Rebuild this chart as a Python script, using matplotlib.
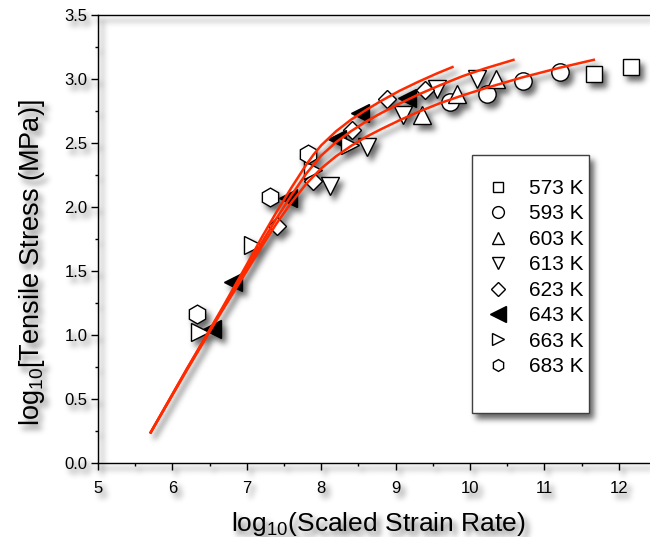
import numpy as np
import matplotlib
matplotlib.use('Agg')
import matplotlib.pyplot as plt
from matplotlib.lines import Line2D
from matplotlib.patches import Rectangle

plt.rcParams['font.family'] = ['Liberation Sans', 'DejaVu Sans']
plt.rcParams['mathtext.fontset'] = 'custom'
plt.rcParams['mathtext.rm'] = 'Liberation Sans'
plt.rcParams['mathtext.it'] = 'Liberation Sans:italic'

## data
labels = ['573 K', '593 K', '603 K', '613 K', '623 K', '643 K', '663 K', '683 K']
x_573 = [11.67, 12.16]
y_573 = [3.04, 3.09]
x_593 = [9.73, 10.23, 10.71, 11.21]
y_593 = [2.82, 2.88, 2.98, 3.05]
x_603 = [9.35, 9.83, 10.35]
y_603 = [2.72, 2.88, 3.00]
x_613 = [8.12, 8.62, 9.10, 9.55, 10.10]
y_613 = [2.16, 2.47, 2.72, 2.92, 3.00]
x_623 = [7.40, 7.89, 8.41, 8.88, 9.40]
y_623 = [1.85, 2.20, 2.60, 2.84, 2.91]
x_643 = [6.53, 6.82, 7.55, 8.21, 8.52, 9.15]
y_643 = [1.05, 1.41, 2.07, 2.53, 2.73, 2.85]
x_663 = [6.37, 7.08, 7.89, 8.39]
y_663 = [1.02, 1.70, 2.29, 2.48]
x_683 = [6.33, 7.31, 7.82]
y_683 = [1.16, 2.08, 2.41]

## fitted curves (red)
fit1_x = [5.70, 6.20, 6.66, 7.00, 7.20, 7.40, 7.60, 7.80, 7.90, 8.00, 8.20, 8.40,
          8.60, 8.80, 9.05, 9.30, 9.55, 9.78]
fit1_y = [0.23, 0.74, 1.20, 1.55, 1.76, 1.96, 2.15, 2.33, 2.41, 2.48, 2.59, 2.68,
          2.755, 2.825, 2.905, 2.975, 3.04, 3.095]
fit2_x = [5.70, 6.20, 6.66, 7.00, 7.20, 7.40, 7.60, 7.80, 8.00, 8.20, 8.40, 8.60,
          8.80, 9.05, 9.30, 9.60, 9.90, 10.20, 10.60]
fit2_y = [0.23, 0.74, 1.19, 1.52, 1.72, 1.91, 2.09, 2.26, 2.40, 2.505, 2.59, 2.665,
          2.73, 2.805, 2.875, 2.95, 3.02, 3.08, 3.15]
fit3_x = [5.70, 6.20, 6.66, 7.00, 7.20, 7.40, 7.60, 7.80, 8.00, 8.20, 8.40, 8.60, 8.80,
          9.05, 9.30, 9.60, 9.90, 10.20, 10.70, 11.20, 11.68]
fit3_y = [0.23, 0.73, 1.18, 1.50, 1.69, 1.87, 2.035, 2.18, 2.30, 2.395, 2.475, 2.545, 2.605,
          2.675, 2.74, 2.81, 2.87, 2.925, 3.01, 3.085, 3.15]

xs = [x_573, x_593, x_603, x_613, x_623, x_643, x_663, x_683]
ys = [y_573, y_593, y_603, y_613, y_623, y_643, y_663, y_683]
markers = ['s', 'o', '^', 'v', 'D', '<', '>', 'h']
sizes = [11, 12.5, 12.5, 12.5, 9.5, 13, 12.5, 13.5]
leg_sizes = [7.5, 8.5, 9, 9, 7.5, 11, 9, 8.5]
faces = ['white'] * 5 + ['black'] + ['white'] * 2

W, H = 650, 537
fig = plt.figure(figsize=(W / 100, H / 100), dpi=100)
ax = fig.add_axes([98 / W, 74 / H, 558 / W, 448.3 / H])

for x, y, m, s, fc in zip(xs, ys, markers, sizes, faces):
    ax.plot(x, y, ls='none', marker=m, ms=s, mfc=fc, mec='black', mew=1.0, zorder=3)

red = '#ff2a00'
for fx, fy in [(fit1_x, fit1_y), (fit2_x, fit2_y), (fit3_x, fit3_y)]:
    ax.plot(fx, fy, color=red, lw=1.8, zorder=4, solid_capstyle='butt', solid_joinstyle='round')

ax.set_xlim(5, 12.5)
ax.set_ylim(0, 3.5)
ax.set_xticks(np.arange(5, 13, 1))
ax.set_xticks(np.arange(5.5, 12.5, 1), minor=True)
ax.set_yticks(np.arange(0, 3.51, 0.5))
ax.set_yticks(np.arange(0.25, 3.5, 0.5), minor=True)
ax.yaxis.set_major_formatter(matplotlib.ticker.FormatStrFormatter('%.1f'))
ax.spines['right'].set_visible(False)
for sp in ['left', 'bottom', 'top']:
    ax.spines[sp].set_linewidth(1.0)
ax.tick_params(which='both', direction='out', width=1.0, labelsize=12, colors='black')
ax.tick_params(which='major', length=5)
ax.tick_params(which='minor', length=2.5)
ax.tick_params(axis='x', pad=8)
ax.tick_params(axis='y', pad=2.5)

fig.text(32 / W, 1 - 263 / H, r'log$_{10}$[Tensile Stress (MPa)]', rotation=90,
         ha='center', va='center', fontsize=19.5)
fig.text(378 / W, 6 / H, r'log$_{10}$(Scaled Strain Rate)', ha='center', va='baseline',
         fontsize=19)

## legend box (drawn separately so it can keep the empty bottom part)
box = Rectangle((472 / W, 1 - 413 / H), 117 / W, 258 / H, transform=fig.transFigure,
                facecolor='white', edgecolor='#404040', lw=1.0, clip_on=False, zorder=6)
ax.add_patch(box)
handles = [Line2D([], [], ls='none', marker=m, ms=s, mfc=fc, mec='black', mew=1.0)
           for m, s, fc in zip(markers, leg_sizes, faces)]
leg = ax.legend(handles, labels, loc='upper left', bbox_to_anchor=(485.5 / W, 1 - 179 / H),
                bbox_transform=fig.transFigure, frameon=False, fontsize=15, borderpad=0,
                borderaxespad=0, handlelength=1.2, handletextpad=0.89, labelspacing=0.31)
leg.set_zorder(7)

## soft drop shadow of everything drawn, placed under the artists
fig.patch.set_alpha(0)
ax.patch.set_visible(False)
fig.canvas.draw()
alpha = np.asarray(fig.canvas.buffer_rgba())[..., 3].astype(float) / 255

def blur(a, sigma):
    r = int(3 * sigma)
    t = np.arange(-r, r + 1)
    k = np.exp(-t ** 2 / (2 * sigma ** 2))
    k /= k.sum()
    a = np.apply_along_axis(lambda v: np.convolve(v, k, mode='same'), 0, a)
    a = np.apply_along_axis(lambda v: np.convolve(v, k, mode='same'), 1, a)
    return a

dx, dy = 4, 5
b = blur(alpha, 3.0)
shifted = np.zeros_like(b)
shifted[dy:, dx:] = b[:-dy, :-dx]
shadow = np.zeros(alpha.shape + (4,))
shadow[..., 3] = np.clip(shifted * 0.6, 0, 1)
fig.figimage(shadow, 0, 0, origin='upper', zorder=-1)

fig.patch.set_alpha(1)
fig.patch.set_facecolor('white')
fig.savefig('out.png', dpi=100)
